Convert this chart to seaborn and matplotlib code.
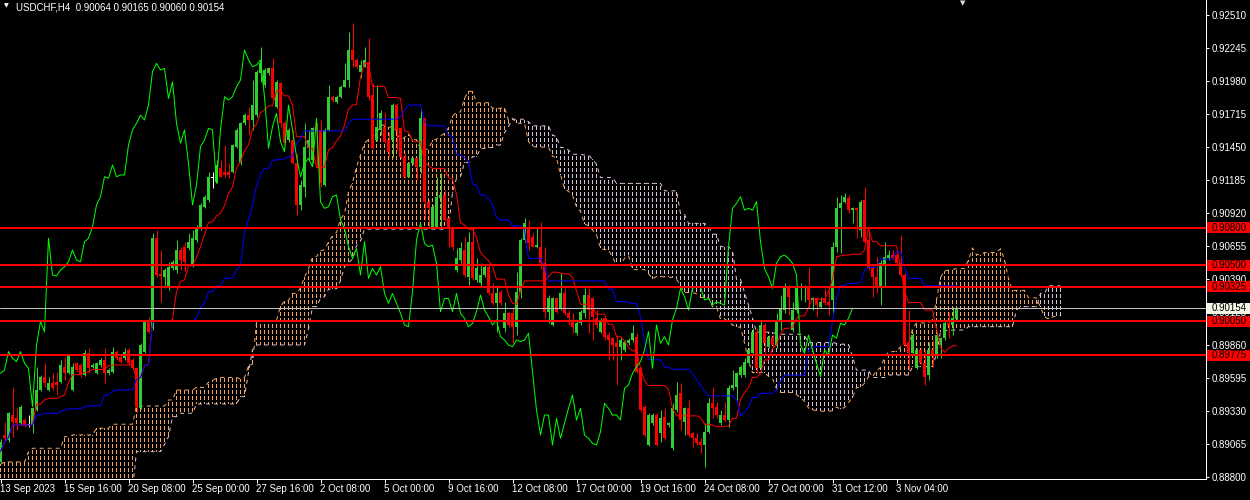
import numpy as np
import pandas as pd
import matplotlib
matplotlib.use('Agg')
import matplotlib.pyplot as plt
import matplotlib.transforms as mtransforms
from matplotlib.patches import Rectangle
import seaborn as sns

# ---- data ----
symbol = 'USDCHF,H4'

open_ = [
    0.88921, 0.89135, 0.89095, 0.89296, 0.89270, 0.89229, 0.89256, 0.89216, 0.89216, 0.89336,
    0.89497, 0.89604, 0.89497, 0.89551, 0.89564, 0.89564, 0.89685, 0.89631, 0.89497, 0.89712,
    0.89698, 0.89618, 0.89792, 0.89685, 0.89631, 0.89698, 0.89738, 0.89631, 0.89645, 0.89806,
    0.89765, 0.89752, 0.89819, 0.89738, 0.89671, 0.89350, 0.89806, 0.90047, 0.89993, 0.90716,
    0.90429, 0.90407, 0.90314, 0.90474, 0.90461, 0.90622, 0.90649, 0.90635, 0.90501, 0.90702,
    0.90796, 0.90970, 0.91024, 0.91198, 0.91171, 0.91278, 0.91252, 0.91252, 0.91252, 0.91453,
    0.91318, 0.91640, 0.91706, 0.91667, 0.91706, 0.92041, 0.91947, 0.92041, 0.92082, 0.91773,
    0.91961, 0.91640, 0.91506, 0.91506, 0.91318, 0.90984, 0.91131, 0.91439, 0.91345, 0.91613,
    0.91587, 0.91144, 0.91587, 0.91854, 0.91814, 0.91854, 0.91934, 0.91988, 0.92229, 0.92149,
    0.92055, 0.92095, 0.92135, 0.91867, 0.91506, 0.91587, 0.91613, 0.91506, 0.91506, 0.91787,
    0.91600, 0.91372, 0.91211, 0.91318, 0.91359, 0.91292, 0.91680, 0.91010, 0.90809, 0.90809,
    0.91037, 0.91064, 0.90876, 0.90809, 0.90461, 0.90541, 0.90622, 0.90407, 0.90689, 0.90381,
    0.90354, 0.90421, 0.90488, 0.90273, 0.90193, 0.90287, 0.89993, 0.90113, 0.90113, 0.90006,
    0.90287, 0.90702, 0.90809, 0.90729, 0.90649, 0.90649, 0.90515, 0.90126, 0.90020, 0.90233,
    0.90153, 0.90273, 0.90113, 0.90060, 0.89953, 0.90033, 0.90113, 0.90260, 0.90233, 0.90073,
    0.89966, 0.90073, 0.89939, 0.89913, 0.89872, 0.89846, 0.89819, 0.89872, 0.89899, 0.89926,
    0.89671, 0.89363, 0.89055, 0.89229, 0.89296, 0.89149, 0.89283, 0.89216, 0.89028, 0.89336,
    0.89470, 0.89243, 0.89350, 0.89149, 0.89109, 0.89082, 0.89055, 0.89162, 0.89390, 0.89363,
    0.89229, 0.89296, 0.89256, 0.89511, 0.89524, 0.89618, 0.89618, 0.89712, 0.89792, 0.89966,
    0.89671, 0.90020, 0.89846, 0.89926, 0.89859, 0.90060, 0.90140, 0.90314, 0.89980, 0.90140,
    0.90314, 0.90314, 0.90327, 0.90220, 0.90233, 0.90166, 0.90233, 0.90206, 0.90220, 0.90649,
    0.90957, 0.91010, 0.91037, 0.90943, 0.90957, 0.90783, 0.91024, 0.90702, 0.90488, 0.90407,
    0.90327, 0.90501, 0.90555, 0.90581, 0.90581, 0.90515, 0.90421, 0.89886, 0.89792, 0.89671,
    0.89819, 0.89712, 0.89618, 0.89819, 0.89779, 0.89859, 0.89913, 0.90033, 0.90020, 0.90064,
]

high = [
    0.89101, 0.89243, 0.89323, 0.89524, 0.89350, 0.89377, 0.89270, 0.89296, 0.89363, 0.89685,
    0.89618, 0.89712, 0.89604, 0.89631, 0.89645, 0.89738, 0.89765, 0.89784, 0.89712, 0.89725,
    0.89712, 0.89819, 0.89832, 0.89712, 0.89725, 0.89752, 0.89832, 0.89671, 0.89846, 0.89819,
    0.89779, 0.89832, 0.89832, 0.89752, 0.89685, 0.89872, 0.90060, 0.90086, 0.90756, 0.90783,
    0.90622, 0.90474, 0.90528, 0.90541, 0.90702, 0.90649, 0.90689, 0.90756, 0.90783, 0.90823,
    0.90997, 0.91064, 0.91252, 0.91252, 0.91345, 0.91345, 0.91466, 0.91318, 0.91474, 0.91600,
    0.91654, 0.91720, 0.91773, 0.91988, 0.92068, 0.92256, 0.92082, 0.92095, 0.92162, 0.91988,
    0.91974, 0.91667, 0.91600, 0.91587, 0.91399, 0.91185, 0.91640, 0.91587, 0.91613, 0.91640,
    0.91667, 0.91600, 0.91947, 0.91867, 0.91867, 0.91947, 0.92122, 0.92376, 0.92443, 0.92162,
    0.92149, 0.92256, 0.92323, 0.91961, 0.91947, 0.91747, 0.91734, 0.91573, 0.91800, 0.91800,
    0.91613, 0.91399, 0.91332, 0.91372, 0.91372, 0.91760, 0.91693, 0.91024, 0.90984, 0.91211,
    0.91238, 0.91104, 0.90876, 0.90809, 0.90635, 0.90689, 0.90729, 0.90769, 0.90809, 0.90555,
    0.90515, 0.90501, 0.90501, 0.90354, 0.90340, 0.90300, 0.90206, 0.90126, 0.90166, 0.90448,
    0.90716, 0.90876, 0.90863, 0.90756, 0.90809, 0.90850, 0.90649, 0.90260, 0.90247, 0.90247,
    0.90434, 0.90314, 0.90140, 0.90113, 0.90060, 0.90140, 0.90314, 0.90314, 0.90247, 0.90140,
    0.90073, 0.90086, 0.89966, 0.89926, 0.89939, 0.89926, 0.89899, 0.89913, 0.90020, 0.89953,
    0.89685, 0.89377, 0.89310, 0.89310, 0.89310, 0.89336, 0.89350, 0.89243, 0.89390, 0.89564,
    0.89551, 0.89363, 0.89417, 0.89162, 0.89149, 0.89109, 0.89229, 0.89430, 0.89524, 0.89404,
    0.89336, 0.89404, 0.89538, 0.89658, 0.89645, 0.89698, 0.89752, 0.89832, 0.89993, 0.89993,
    0.90060, 0.90033, 0.89939, 0.89939, 0.90113, 0.90260, 0.90354, 0.90340, 0.90206, 0.90340,
    0.90354, 0.90340, 0.90488, 0.90247, 0.90247, 0.90247, 0.90314, 0.90314, 0.90689, 0.91051,
    0.91064, 0.91077, 0.91064, 0.90970, 0.90970, 0.91024, 0.91131, 0.90783, 0.90501, 0.90568,
    0.90541, 0.90689, 0.90622, 0.90622, 0.90608, 0.90743, 0.90434, 0.90140, 0.89953, 0.89832,
    0.89832, 0.89819, 0.89886, 0.89899, 0.89953, 0.89926, 0.90060, 0.90126, 0.90166, 0.90165,
]

low = [
    0.88908, 0.89090, 0.89082, 0.89122, 0.89176, 0.89216, 0.89202, 0.89197, 0.89149, 0.89331,
    0.89492, 0.89524, 0.89492, 0.89497, 0.89457, 0.89551, 0.89578, 0.89626, 0.89492, 0.89645,
    0.89604, 0.89610, 0.89631, 0.89671, 0.89626, 0.89685, 0.89551, 0.89618, 0.89631, 0.89738,
    0.89712, 0.89738, 0.89698, 0.89658, 0.89323, 0.89342, 0.89792, 0.89953, 0.89980, 0.90407,
    0.90206, 0.90314, 0.90300, 0.90461, 0.90434, 0.90461, 0.90448, 0.90622, 0.90488, 0.90689,
    0.90783, 0.90957, 0.91010, 0.91118, 0.91158, 0.91206, 0.91211, 0.91198, 0.91238, 0.91439,
    0.91305, 0.91627, 0.91546, 0.91587, 0.91693, 0.91974, 0.91934, 0.92028, 0.91827, 0.91760,
    0.91613, 0.91466, 0.91493, 0.91313, 0.90903, 0.90943, 0.91051, 0.91345, 0.91318, 0.91278,
    0.91131, 0.91136, 0.91581, 0.91814, 0.91800, 0.91840, 0.91929, 0.91934, 0.92095, 0.92082,
    0.92001, 0.92090, 0.91827, 0.91431, 0.91501, 0.91546, 0.91480, 0.91372, 0.91372, 0.91426,
    0.91359, 0.91198, 0.91206, 0.91313, 0.91185, 0.91238, 0.90863, 0.90796, 0.90804, 0.90796,
    0.90809, 0.90858, 0.90649, 0.90622, 0.90448, 0.90515, 0.90407, 0.90340, 0.90381, 0.90367,
    0.90327, 0.90407, 0.90260, 0.90180, 0.89966, 0.90180, 0.89966, 0.90006, 0.89872, 0.89939,
    0.90233, 0.90689, 0.90622, 0.90643, 0.90635, 0.90474, 0.90073, 0.90033, 0.90012, 0.90113,
    0.90140, 0.90100, 0.90020, 0.89953, 0.89939, 0.90020, 0.90073, 0.89953, 0.89899, 0.89993,
    0.89953, 0.89899, 0.89738, 0.89738, 0.89538, 0.89738, 0.89806, 0.89859, 0.89886, 0.89631,
    0.89323, 0.89122, 0.89047, 0.89216, 0.89047, 0.89082, 0.89095, 0.89202, 0.89015, 0.89323,
    0.89176, 0.89135, 0.89122, 0.89042, 0.89055, 0.88988, 0.88881, 0.89149, 0.89270, 0.89270,
    0.89216, 0.89243, 0.89202, 0.89497, 0.89417, 0.89604, 0.89604, 0.89698, 0.89779, 0.89631,
    0.89645, 0.89792, 0.89832, 0.89846, 0.89832, 0.89980, 0.90113, 0.90100, 0.89966, 0.90113,
    0.90220, 0.90206, 0.90166, 0.90140, 0.90086, 0.90153, 0.90180, 0.90100, 0.90113, 0.90608,
    0.90595, 0.90997, 0.90916, 0.90836, 0.90716, 0.90729, 0.90675, 0.90461, 0.90247, 0.90273,
    0.90180, 0.90327, 0.90541, 0.90547, 0.90510, 0.90407, 0.89846, 0.89658, 0.89786, 0.89663,
    0.89706, 0.89538, 0.89578, 0.89685, 0.89752, 0.89752, 0.89899, 0.89913, 0.89939, 0.90060,
]

close = [
    0.89082, 0.89109, 0.89310, 0.89243, 0.89229, 0.89363, 0.89216, 0.89216, 0.89350, 0.89497,
    0.89604, 0.89551, 0.89551, 0.89511, 0.89538, 0.89698, 0.89631, 0.89779, 0.89685, 0.89658,
    0.89618, 0.89792, 0.89671, 0.89698, 0.89712, 0.89738, 0.89631, 0.89658, 0.89806, 0.89752,
    0.89725, 0.89806, 0.89712, 0.89671, 0.89363, 0.89859, 0.90047, 0.89966, 0.90716, 0.90421,
    0.90413, 0.90461, 0.90488, 0.90528, 0.90622, 0.90541, 0.90528, 0.90689, 0.90716, 0.90809,
    0.90984, 0.91051, 0.91211, 0.91198, 0.91305, 0.91211, 0.91225, 0.91225, 0.91466, 0.91587,
    0.91640, 0.91706, 0.91667, 0.91787, 0.92055, 0.92122, 0.92068, 0.92082, 0.91840, 0.91974,
    0.91640, 0.91480, 0.91587, 0.91318, 0.90984, 0.91144, 0.91453, 0.91506, 0.91600, 0.91587,
    0.91158, 0.91587, 0.91854, 0.91827, 0.91854, 0.91934, 0.91988, 0.92229, 0.92149, 0.92095,
    0.92108, 0.92149, 0.91854, 0.91439, 0.91613, 0.91720, 0.91493, 0.91412, 0.91787, 0.91587,
    0.91372, 0.91211, 0.91318, 0.91359, 0.91292, 0.91680, 0.91010, 0.90957, 0.90970, 0.91051,
    0.91064, 0.90863, 0.90796, 0.90649, 0.90555, 0.90635, 0.90421, 0.90689, 0.90394, 0.90474,
    0.90421, 0.90488, 0.90273, 0.90193, 0.90273, 0.90193, 0.90113, 0.90020, 0.90006, 0.90287,
    0.90702, 0.90836, 0.90675, 0.90649, 0.90662, 0.90515, 0.90126, 0.90233, 0.90233, 0.90126,
    0.90273, 0.90113, 0.90073, 0.90006, 0.90033, 0.90126, 0.90260, 0.90140, 0.90086, 0.90020,
    0.90060, 0.89926, 0.89899, 0.89859, 0.89846, 0.89899, 0.89886, 0.89899, 0.89953, 0.89645,
    0.89336, 0.89135, 0.89296, 0.89296, 0.89055, 0.89270, 0.89109, 0.89229, 0.89350, 0.89457,
    0.89256, 0.89350, 0.89135, 0.89109, 0.89068, 0.89055, 0.89162, 0.89390, 0.89350, 0.89296,
    0.89296, 0.89256, 0.89511, 0.89538, 0.89631, 0.89685, 0.89725, 0.89819, 0.89966, 0.89671,
    0.90020, 0.89872, 0.89926, 0.89859, 0.90060, 0.90153, 0.90314, 0.90247, 0.90140, 0.90314,
    0.90327, 0.90327, 0.90220, 0.90233, 0.90180, 0.90206, 0.90193, 0.90180, 0.90649, 0.90957,
    0.90997, 0.91051, 0.90943, 0.90957, 0.90943, 0.91010, 0.90689, 0.90474, 0.90407, 0.90314,
    0.90515, 0.90568, 0.90581, 0.90555, 0.90515, 0.90421, 0.89859, 0.89792, 0.89939, 0.89819,
    0.89712, 0.89604, 0.89819, 0.89779, 0.89939, 0.89913, 0.90033, 0.90020, 0.90073, 0.90154,
]

# cloud values before the loaded history is long enough
span_a_head = [
    0.88900, 0.88919, 0.88919, 0.88919, 0.88919, 0.88919, 0.88919, 0.89000, 0.89029, 0.89029,
    0.89029, 0.89029, 0.89029, 0.89029, 0.89029, 0.89029, 0.89122, 0.89122, 0.89136, 0.89136,
    0.89136, 0.89136, 0.89136, 0.89136, 0.89190, 0.89190, 0.89190, 0.89190, 0.89222, 0.89222,
    0.89222, 0.89222, 0.89222, 0.89222, 0.89369, 0.89369, 0.89369, 0.89369, 0.89369, 0.89369,
    0.89369, 0.89369, 0.89417, 0.89417, 0.89497, 0.89497, 0.89497, 0.89497, 0.89497, 0.89519,
    0.89519,
]
span_b_head = [
    0.88700, 0.88700, 0.88700, 0.88700, 0.88700, 0.88700, 0.88700, 0.88700, 0.88700, 0.88700,
    0.88700, 0.88700, 0.88700, 0.88700, 0.88700, 0.88700, 0.88700, 0.88700, 0.88700, 0.88700,
    0.88700, 0.88700, 0.88700, 0.88700, 0.88700, 0.88700, 0.88700, 0.88700, 0.88700, 0.88700,
    0.88700, 0.88700, 0.88700, 0.88700, 0.89002, 0.89002, 0.89002, 0.89002, 0.89002, 0.89002,
    0.89002, 0.89060, 0.89122, 0.89283, 0.89283, 0.89310, 0.89310, 0.89310, 0.89310, 0.89385,
    0.89385, 0.89385, 0.89385, 0.89385, 0.89385, 0.89385, 0.89385, 0.89385, 0.89385, 0.89385,
    0.89444, 0.89444, 0.89640, 0.89820, 0.89859, 0.89859, 0.89859, 0.89859, 0.89859, 0.89859,
    0.89859, 0.89859, 0.89859, 0.89859, 0.89859, 0.89859, 0.89859,
]

levels = [0.90800, 0.90500, 0.90325, 0.90050, 0.89775]
bid = 0.90154

price_ticks = [0.92510, 0.92245, 0.91980, 0.91715, 0.91450, 0.91185, 0.90920, 0.90655,
               0.90390, 0.90125, 0.89860, 0.89595, 0.89330, 0.89065, 0.88800]
date_ticks = [0, 16, 32, 48, 64, 80, 96, 112, 128, 144, 160, 176, 192, 208, 224]
date_labels = ['13 Sep 2023', '15 Sep 16:00', '20 Sep 08:00', '25 Sep 00:00', '27 Sep 16:00',
               '2 Oct 08:00', '5 Oct 00:00', '9 Oct 16:00', '12 Oct 08:00', '17 Oct 00:00',
               '19 Oct 16:00', '24 Oct 08:00', '27 Oct 00:00', '31 Oct 12:00', '3 Nov 04:00']

assert len(open_) == len(high) == len(low) == len(close) == 240

df = pd.DataFrame({'open': open_, 'high': high, 'low': low, 'close': close})
df['bar'] = np.arange(len(df))
n = len(df)

# ichimoku 9/26/52
tenkan = (df.high.rolling(9, min_periods=1).max() + df.low.rolling(9, min_periods=1).min()) / 2
kijun = (df.high.rolling(26, min_periods=1).max() + df.low.rolling(26, min_periods=1).min()) / 2
span_a_src = ((tenkan + kijun) / 2).values
span_b_src = ((df.high.rolling(52, min_periods=1).max() + df.low.rolling(52, min_periods=1).min()) / 2).values
span_a = np.concatenate([span_a_head, span_a_src[len(span_a_head) - 26:]])
span_b = np.concatenate([span_b_head, span_b_src[len(span_b_head) - 26:]])
cloud_bar = np.arange(n + 26)

# ---- styling ----
sns.set_style('ticks')
plt.rcParams['font.family'] = ['Liberation Sans', 'DejaVu Sans']

PX = 0.72  # one screen pixel in points
SANDY = '#F4A460'
THISTLE = '#D8BFD8'
BULL = '#32CD32'
BEAR = '#FF0000'

YLO, YHI = 0.88782, 0.92631
PX_PER_PRICE = 479 / (YHI - YLO)

fig = plt.figure(figsize=(12.5, 5), dpi=100, facecolor='black')
ax = fig.add_axes([0, 21 / 500, 1206 / 1250, 479 / 500], facecolor='black')

# cloud hatch: one thin column per bar, dashed with black stripes on top
up = span_a >= span_b
lo_all = np.minimum(span_a, span_b)
hi_all = np.maximum(span_a, span_b)
hatch_col = np.where(up, SANDY, THISTLE)
ax.bar(cloud_bar, hi_all - lo_all, bottom=lo_all, width=0.25, color=hatch_col, lw=0, zorder=1)
# black horizontal stripes (every 6 px, 2 px tall) cut the columns into dashes
stripe_y = np.arange(YLO, YHI, 6 / PX_PER_PRICE)
ax.hlines(stripe_y, -0.125, n + 26, colors='black', lw=2 * PX, zorder=1.5)

sns.lineplot(x=cloud_bar, y=span_a, ax=ax, color=SANDY, lw=PX, linestyle=(0, (4, 4)),
             estimator=None, sort=False, zorder=2)
sns.lineplot(x=cloud_bar, y=span_b, ax=ax, color=THISTLE, lw=PX, linestyle=(0, (4, 4)),
             estimator=None, sort=False, zorder=2)

# candles
bull = df.close > df.open
bear = df.close < df.open
colors = np.where(bull, BULL, np.where(bear, BEAR, 'white'))
ax.vlines(df.bar, df.low, df.high, colors=colors, lw=PX, zorder=3)
body_lo = np.minimum(df.open, df.close)
body_h = np.maximum((df.close - df.open).abs(), 0.00009)
ax.bar(df.bar, body_h, bottom=body_lo, width=0.75, color=colors, lw=0, zorder=3)

# ichimoku lines
sns.lineplot(x=df.bar, y=tenkan, ax=ax, color='#FF0000', lw=PX, estimator=None, sort=False, zorder=4)
sns.lineplot(x=df.bar, y=kijun, ax=ax, color='#0000FF', lw=PX, estimator=None, sort=False, zorder=4)
sns.lineplot(x=df.bar[:-26].values, y=df.close[26:].values, ax=ax, color='#00FF00', lw=PX,
             estimator=None, sort=False, zorder=4)

# horizontal levels and bid line
ax.axhline(bid, color='#C0C0C0', lw=PX, zorder=5)
for lvl in levels:
    ax.axhline(lvl, color='red', lw=2 * PX, zorder=6)

ax.set_xlim(-0.125, 301.375)
ax.set_ylim(YLO, YHI)
ax.set_xlabel('')
ax.set_ylabel('')

for s in ['left', 'top']:
    ax.spines[s].set_visible(False)
for s in ['right', 'bottom']:
    ax.spines[s].set_color('white')
    ax.spines[s].set_linewidth(PX)

ax.yaxis.tick_right()
ax.set_yticks(price_ticks)
ax.set_yticklabels([f'{p:.5f}' for p in price_ticks])
ax.tick_params(axis='y', colors='white', length=3 * PX, width=PX, pad=3 * PX, labelsize=7)
ax.set_xticks(date_ticks)
ax.set_xticklabels(date_labels, ha='left')
ax.tick_params(axis='x', colors='white', length=4 * PX, width=PX, pad=1.5 * PX, labelsize=7)

# price boxes on the right scale
trans = mtransforms.blended_transform_factory(ax.transAxes, ax.transData)
box_h = 11 / PX_PER_PRICE
for lvl in levels:
    ax.add_patch(Rectangle((1.0008, lvl - box_h / 2), 44 / 1206, box_h, transform=trans,
                           facecolor='red', edgecolor='none', clip_on=False, zorder=7))
    ax.text(1.005, lvl, f'{lvl:.5f}', transform=trans, color='black', fontsize=7,
            va='center', ha='left', clip_on=False, zorder=8)
ax.add_patch(Rectangle((1.0008, bid - box_h / 2), 44 / 1206, box_h, transform=trans,
                       facecolor='#F4F4E4', edgecolor='none', clip_on=False, zorder=7))
ax.text(1.005, bid, f'{bid:.5f}', transform=trans, color='black', fontsize=7,
        va='center', ha='left', clip_on=False, zorder=8)

# header
last = df.iloc[-1]
ax.text(16 / 1206, 1 - 7 / 479,
        f'{symbol}  {last.open:.5f} {last.high:.5f} {last.low:.5f} {last.close:.5f}',
        transform=ax.transAxes, color='white', fontsize=7, va='center', ha='left', zorder=9)
ax.text(6 / 1206, 1 - 6 / 479, '\u25BC', transform=ax.transAxes, color='white', fontsize=4.5,
        va='center', ha='center', family='DejaVu Sans', zorder=9)
ax.text(963 / 1206, 1 - 3 / 479, '\u25BC', transform=ax.transAxes, color='#DDDDDD', fontsize=5,
        va='center', ha='center', family='DejaVu Sans', zorder=9)

fig.savefig('out.png', dpi=100, facecolor='black')
